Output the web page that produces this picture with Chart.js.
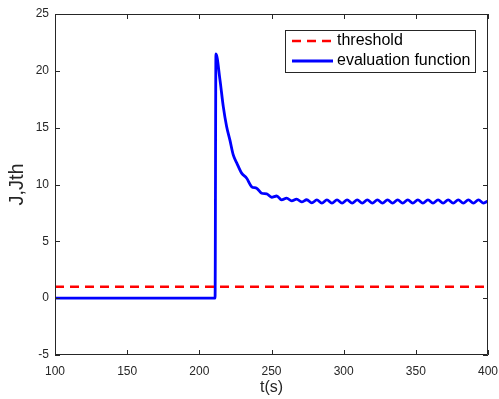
<!DOCTYPE html>
<html>
<head>
<meta charset="utf-8">
<script src="https://cdn.jsdelivr.net/npm/chart.js@4.4.1/dist/chart.umd.min.js"></script>
<style>
html,body{margin:0;padding:0;background:#fff;}
canvas{display:block;}
</style>
</head>
<body>
<canvas id="c" width="499" height="399"></canvas>
<script>
// ---- data ----
const xTicks = [100, 150, 200, 250, 300, 350, 400];
const yTicks = [-5, 0, 5, 10, 15, 20, 25];
const thresholdT = [100, 400];
const thresholdJ = [1, 1];
const evalT = [100, 210.9, 211.5, 214.3, 216.6, 218.9, 221.2, 223.5, 225.9, 229.3, 232.8, 236.3, 239.7, 243.2, 246.7, 250.1, 253.6, 257.0,
  260.5, 264.0, 267.4, 270.9, 274.4, 277.9, 281.4, 284.9, 288.4, 291.9, 295.4, 298.9, 302.4, 305.9, 309.4, 312.9, 316.4, 319.9,
  323.4, 326.9, 330.4, 333.9, 337.4, 340.9, 344.4, 347.9, 351.4, 354.9, 358.4, 361.9, 365.4, 368.9, 372.4, 375.9, 379.4, 382.9,
  386.4, 389.9, 393.4, 396.9, 400];
const evalJ = [0, 0, 21.5, 19.2, 16.85, 15.1, 13.9, 12.6, 11.9, 11.0, 10.55, 9.8, 9.67, 9.23, 9.17, 8.88, 8.99, 8.64,
  8.8, 8.56, 8.72, 8.47, 8.66, 8.38, 8.64, 8.37, 8.65, 8.36, 8.64, 8.37, 8.65, 8.36, 8.64, 8.36, 8.65, 8.37,
  8.64, 8.36, 8.65, 8.36, 8.64, 8.37, 8.65, 8.36, 8.64, 8.36, 8.65, 8.37, 8.64, 8.36, 8.65, 8.36, 8.64, 8.37,
  8.65, 8.36, 8.64, 8.37, 8.55];
const labels = ['threshold', 'evaluation function'];

const AX = '#262626';
const FONT = '"Liberation Sans", Arial, sans-serif';

const boxTicks = {
  id: 'boxTicks',
  afterDatasetsDraw(chart) {
    const {ctx, chartArea: a, scales: {x, y}} = chart;
    ctx.save();
    ctx.strokeStyle = AX;
    ctx.lineWidth = 1;
    ctx.setLineDash([]);
    ctx.beginPath();
    ctx.rect(a.left + 0.5, a.top + 0.5, a.right - a.left - 1, a.bottom - a.top - 1);
    const L = 5;
    xTicks.forEach(v => {
      const px = Math.round(x.getPixelForValue(v)) + 0.5;
      ctx.moveTo(px, a.bottom); ctx.lineTo(px, a.bottom - L);
      ctx.moveTo(px, a.top); ctx.lineTo(px, a.top + L);
    });
    yTicks.forEach(v => {
      const py = Math.round(y.getPixelForValue(v)) + 0.5;
      ctx.moveTo(a.left, py); ctx.lineTo(a.left + L, py);
      ctx.moveTo(a.right, py); ctx.lineTo(a.right - L, py);
    });
    ctx.stroke();
    ctx.restore();
  },
  afterDraw(chart) {
    const {ctx, chartArea: a} = chart;
    const w = 190, h = 42;
    const bx = a.right - 13 - w, by = a.top + 16;
    ctx.save();
    ctx.fillStyle = '#fff';
    ctx.fillRect(bx, by, w, h);
    ctx.strokeStyle = AX;
    ctx.lineWidth = 1;
    ctx.strokeRect(bx + 0.5, by + 0.5, w, h);
    ctx.font = '16px ' + FONT;
    ctx.textBaseline = 'middle';
    ctx.fillStyle = '#000';
    chart.data.datasets.forEach((ds, i) => {
      const yy = by + 11 + i * 20;
      ctx.strokeStyle = ds.borderColor;
      ctx.lineWidth = ds.borderWidth;
      ctx.setLineDash(ds.borderDash || []);
      ctx.beginPath();
      ctx.moveTo(bx + 7, yy); ctx.lineTo(bx + 48, yy);
      ctx.stroke();
      ctx.setLineDash([]);
      ctx.fillText(ds.label, bx + 52, yy);
    });
    ctx.restore();
  }
};

new Chart(document.getElementById('c'), {
  type: 'line',
  data: {
    datasets: [
      {
        label: labels[0],
        data: thresholdT.map((t, i) => ({x: t, y: thresholdJ[i]})),
        borderColor: '#ff0000',
        borderWidth: 2.5,
        borderDash: [9, 6],
        pointRadius: 0,
        fill: false
      },
      {
        label: labels[1],
        data: evalT.map((t, i) => ({x: t, y: evalJ[i]})),
        borderColor: '#0000ff',
        borderWidth: 2.8,
        cubicInterpolationMode: 'monotone',
        pointRadius: 0,
        fill: false
      }
    ]
  },
  options: {
    responsive: false,
    animation: false,
    layout: {padding: {top: 14, right: 11, left: 0, bottom: 0}},
    plugins: {legend: {display: false}, tooltip: {enabled: false}},
    scales: {
      x: {
        type: 'linear', min: 100, max: 400,
        afterBuildTicks(s) { s.ticks = xTicks.map(v => ({value: v})); },
        afterFit(s) { s.height = 44; s.paddingLeft = 0; s.paddingRight = 0; },
        grid: {display: false, drawTicks: false, tickLength: 0},
        border: {display: false},
        ticks: {color: AX, font: {size: 12, family: FONT}, padding: 9, maxRotation: 0},
        title: {display: true, text: 't(s)', color: AX, font: {size: 16, family: FONT}, padding: {top: 0, bottom: 2}}
      },
      y: {
        type: 'linear', min: -5, max: 25,
        afterBuildTicks(s) { s.ticks = yTicks.map(v => ({value: v})); },
        afterFit(s) { s.width = 55; s.paddingTop = 0; s.paddingBottom = 0; },
        grid: {display: false, drawTicks: false, tickLength: 0},
        border: {display: false},
        ticks: {color: AX, font: {size: 12, family: FONT}, padding: 6},
        title: {display: true, text: 'J,Jth', color: AX, font: {size: 20, family: FONT}, padding: {top: 5, bottom: 0}}
      }
    }
  },
  plugins: [boxTicks]
});
</script>
</body>
</html>
